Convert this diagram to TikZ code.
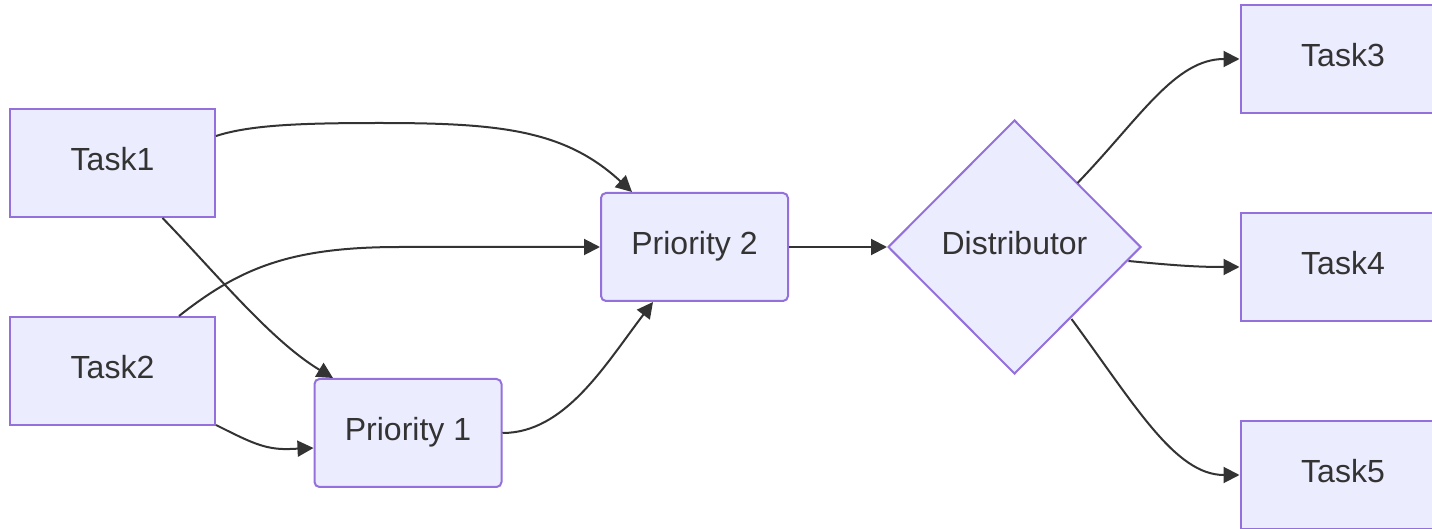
\documentclass[tikz,border=0pt]{standalone}
\usepackage{fontspec}
\setmainfont{Liberation Sans}
\usetikzlibrary{arrows.meta,calc,shapes.geometric}
\definecolor{nodefill}{HTML}{ECECFF}
\definecolor{nodeline}{HTML}{9370DB}
\definecolor{ink}{HTML}{333333}
\tikzset{
  base/.style={fill=nodefill,draw=nodeline,line width=1pt,text=ink,inner sep=0pt,text height=11.5pt,text depth=3.5pt,font=\fontsize{16pt}{19pt}\selectfont},
  taskbox/.style={base,rectangle,minimum width=102.5pt,minimum height=54pt},
  prio/.style={base,rectangle,rounded corners=2.5pt,minimum width=93.5pt,minimum height=54pt},
  dist/.style={base,diamond,aspect=1,minimum width=126.5pt,minimum height=127pt},
  link/.style={draw=ink,line width=1pt,-{Triangle[length=8pt,width=8pt]}}
}
\begin{document}
\begin{tikzpicture}[x=0.5pt,y=-0.5pt]
\useasboundingbox (0,0) rectangle (1432,529);
\node[taskbox] (t1) at (112.5,163) {Task1};
\node[taskbox] (t2) at (112.5,371) {Task2};
\node[prio] (p1) at (408,433) {Priority 1};
\node[prio] (p2) at (694.5,247) {Priority 2};
\node[dist] (d) at (1014.5,247) {Distributor};
\node[taskbox] (t3) at (1343,59) {Task3};
\node[taskbox] (t4) at (1343,267) {Task4};
\node[taskbox] (t5) at (1343,475) {Task5};
% Task1 -> Priority 2
\draw[link] ($(t1.east)+(0,-27)$) .. controls (250,125) and (300,123) .. (380,123)
  .. controls (500,123) and (565,130) .. ($(p2.north)+(-62.5,0)$);
% Task1 -> Priority 1
\draw[link] ($(t1.south)+(50,0)$) .. controls (215,272) and (270,340) .. ($(p1.north)+(-75,0)$);
% Task2 -> Priority 2
\draw[link] ($(t2.north)+(66.5,0)$) .. controls (240,268) and (290,247) .. (400,247) -- (p2.west);
% Task2 -> Priority 1
\draw[link] ($(t2.east)+(0,54)$) .. controls (250,442) and (265,450) .. (290,449) -- ($(p1.west)+(0,15)$);
% Priority 1 -> Priority 2
\draw[link] (p1.east) .. controls (565,433) and (605,365) .. ($(p2.south)+(-41.5,0)$);
% Priority 2 -> Distributor
\draw[link] (p2.east) -- (d.west);
% Distributor -> Task3
\draw[link] ($(d.center)+(63,-64)$) .. controls (1140,118) and (1175,59) .. (t3.west);
% Distributor -> Task4
\draw[link] ($(d.center)+(114,14)$) .. controls (1180,266) and (1200,267) .. (t4.west);
% Distributor -> Task5
\draw[link] ($(d.center)+(57,72)$) .. controls (1135,405) and (1175,475) .. (t5.west);
\end{tikzpicture}
\end{document}
